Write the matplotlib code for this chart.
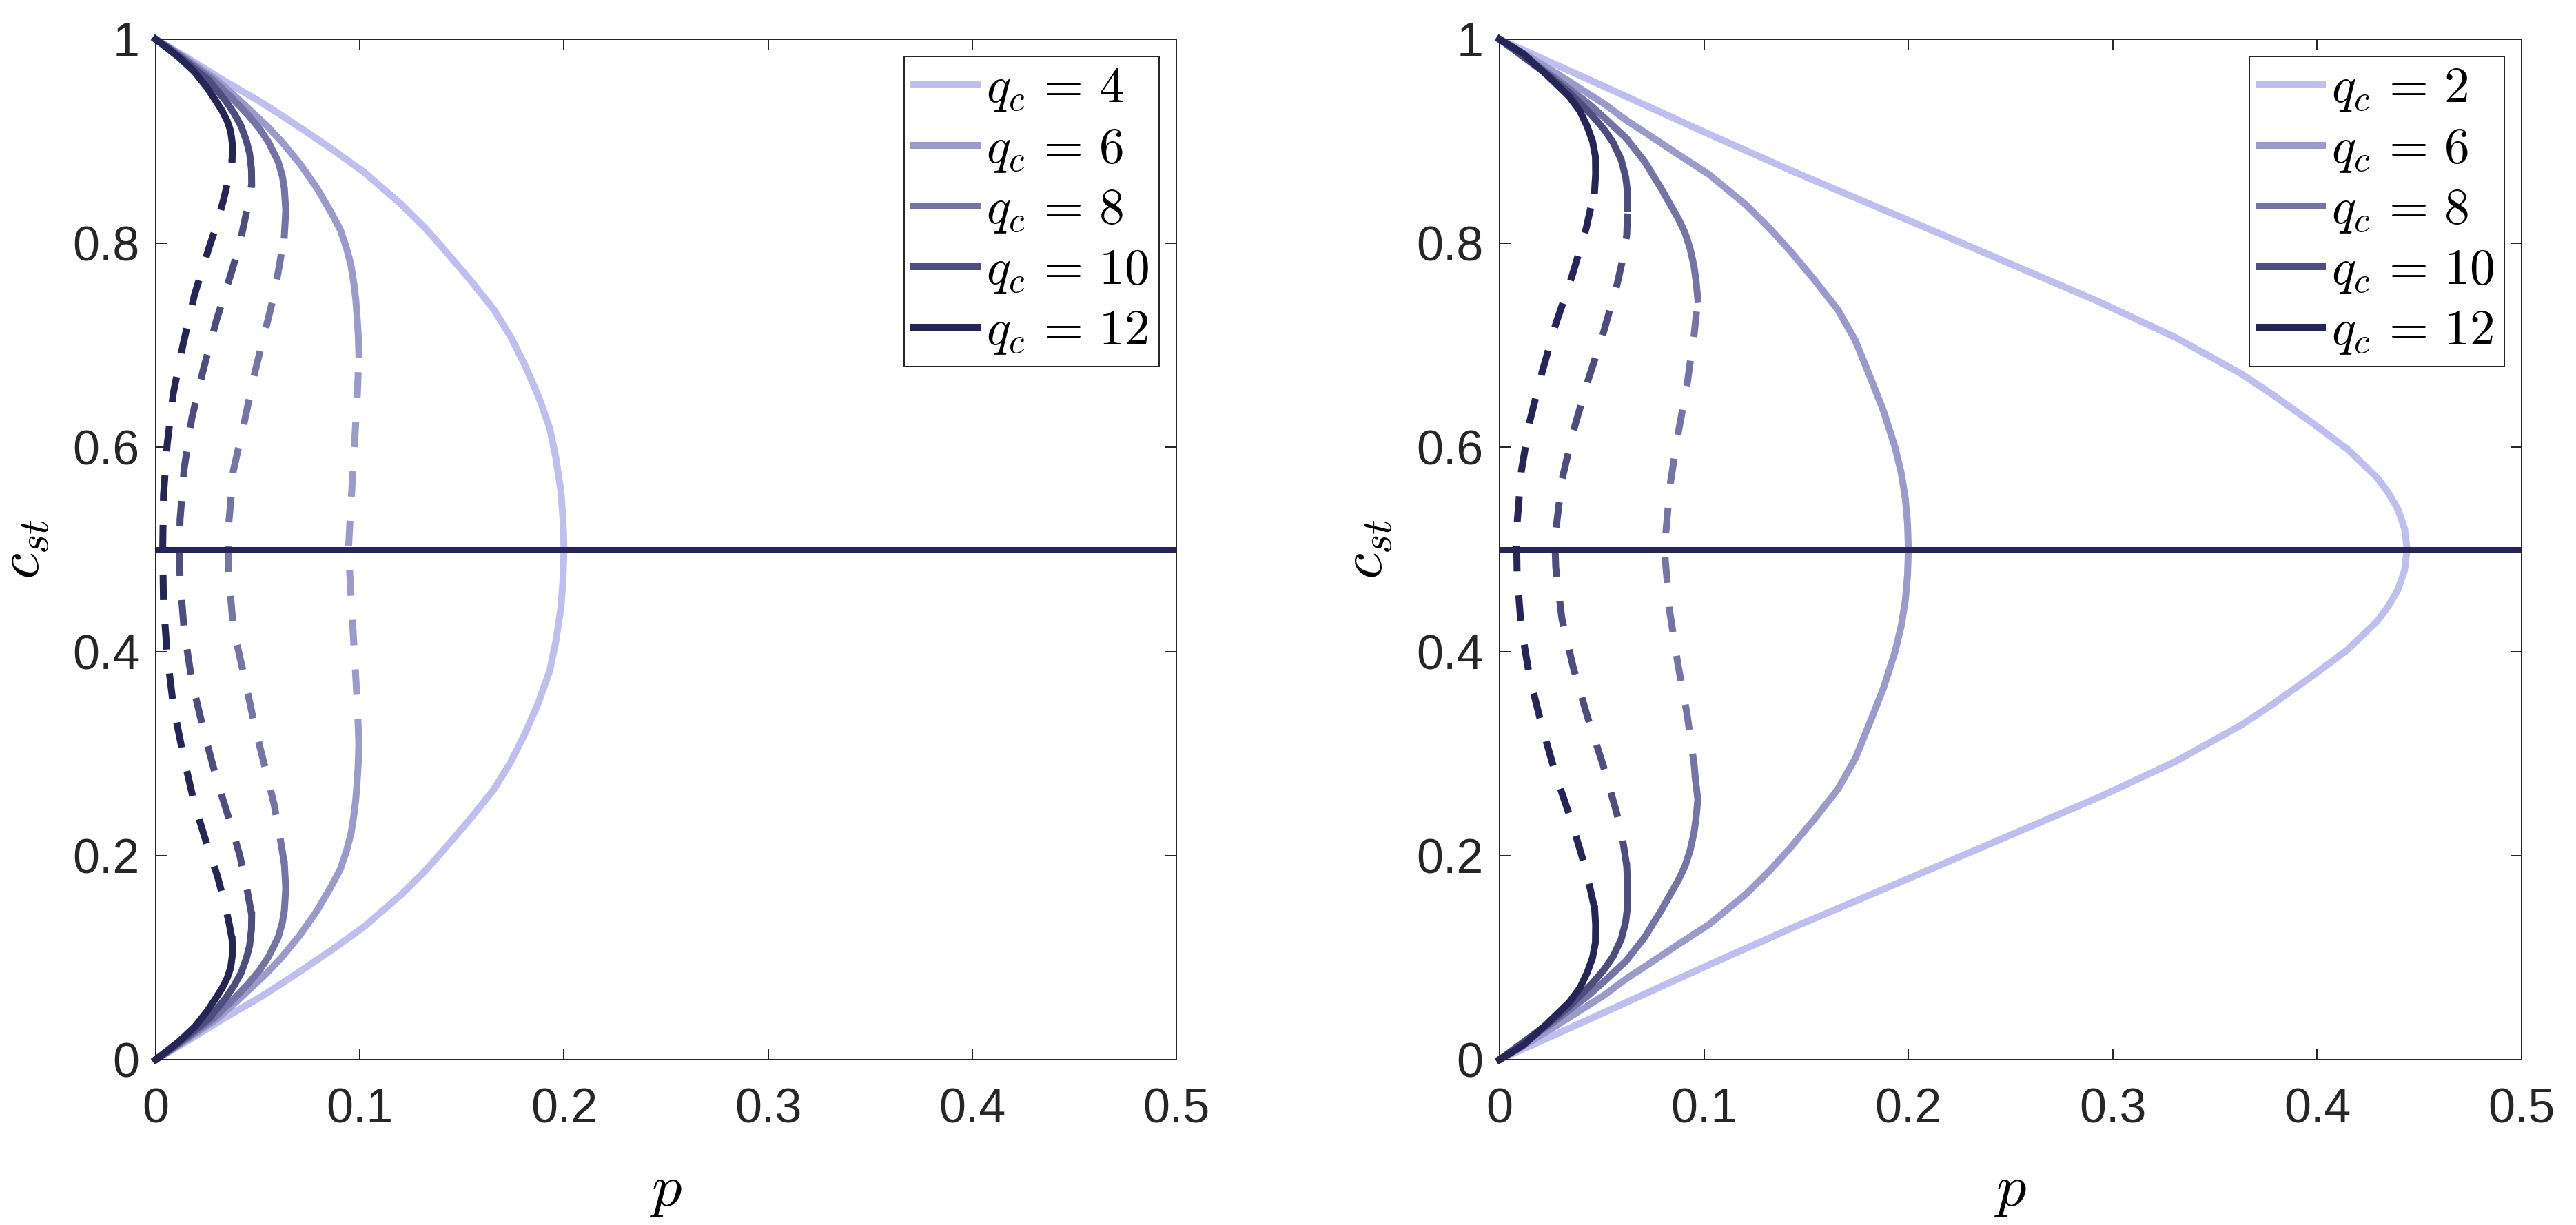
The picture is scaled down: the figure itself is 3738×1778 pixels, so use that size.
import matplotlib
matplotlib.use("Agg")
import matplotlib.pyplot as plt

plt.rcParams['mathtext.fontset'] = 'cm'
plt.rcParams['font.family'] = ['Liberation Sans', 'DejaVu Sans']

# line colours, lightest (first legend entry) to darkest
shades = ['#bfbfef', '#9a9acb', '#7474a6', '#4d4d7f', '#252558']
left_q = [4, 6, 8, 10, 12]
right_q = [2, 6, 8, 10, 12]

x_ticks = [0, 0.1, 0.2, 0.3, 0.4, 0.5]
x_tick_labels = ['0', '0.1', '0.2', '0.3', '0.4', '0.5']
y_ticks = [0, 0.2, 0.4, 0.6, 0.8, 1.0]
y_tick_labels = ['0', '0.2', '0.4', '0.6', '0.8', '1']

# ---- left panel: c_st values and the matching p values
# *_unstable = c range drawn dashed
L4_c = [0, 0.01, 0.02, 0.04, 0.061, 0.075, 0.09, 0.11, 0.131, 0.162, 0.185, 0.21, 0.237, 0.265, 0.292, 0.32,
        0.35, 0.381, 0.41, 0.443, 0.47, 0.5, 0.53, 0.557, 0.59, 0.619, 0.65, 0.68, 0.708, 0.735, 0.763, 0.79,
        0.815, 0.838, 0.869, 0.89, 0.91, 0.925, 0.939, 0.96, 0.98, 0.99, 1]
L4_p = [0, 0.0085, 0.017, 0.033, 0.051, 0.062, 0.0733, 0.088, 0.1025, 0.1204, 0.132, 0.143, 0.1545, 0.1657, 0.174, 0.181,
        0.1875, 0.193, 0.196, 0.1985, 0.1995, 0.2, 0.1995, 0.1985, 0.196, 0.193, 0.1875, 0.181, 0.174, 0.1657, 0.1545, 0.143,
        0.132, 0.1204, 0.1025, 0.088, 0.0733, 0.062, 0.051, 0.033, 0.017, 0.0085, 0]
L4_unstable = None

L6_c = [0, 0.01, 0.02, 0.04, 0.055, 0.071, 0.085, 0.101, 0.123, 0.146, 0.17, 0.187, 0.205, 0.222, 0.24, 0.255,
        0.271, 0.29, 0.309, 0.347, 0.409, 0.46, 0.5, 0.54, 0.591, 0.653, 0.691, 0.71, 0.729, 0.745, 0.76, 0.778,
        0.795, 0.813, 0.83, 0.854, 0.877, 0.899, 0.915, 0.929, 0.945, 0.96, 0.98, 0.99, 1]
L6_p = [0, 0.008, 0.0155, 0.03, 0.0385, 0.047, 0.0545, 0.062, 0.071, 0.079, 0.086, 0.0905, 0.0935, 0.0957, 0.0971, 0.098,
        0.0986, 0.0992, 0.0995, 0.0988, 0.097, 0.0955, 0.0944, 0.0955, 0.097, 0.0988, 0.0995, 0.0992, 0.0986, 0.098, 0.0971, 0.0957,
        0.0935, 0.0905, 0.086, 0.079, 0.071, 0.062, 0.0545, 0.047, 0.0385, 0.03, 0.0155, 0.008, 0]
L6_unstable = (0.309, 0.691)

L8_c = [0, 0.01, 0.02, 0.04, 0.057, 0.074, 0.088, 0.101, 0.12, 0.134, 0.146, 0.168, 0.192, 0.22, 0.25, 0.277,
        0.326, 0.375, 0.423, 0.474, 0.5, 0.526, 0.577, 0.625, 0.674, 0.723, 0.75, 0.78, 0.808, 0.832, 0.854,
        0.866, 0.88, 0.899, 0.912, 0.926, 0.943, 0.96, 0.98, 0.99, 1]
L8_p = [0, 0.0075, 0.0145, 0.028, 0.037, 0.0452, 0.051, 0.0553, 0.06, 0.062, 0.063, 0.0637, 0.063, 0.0607, 0.058, 0.0547,
        0.0486, 0.0434, 0.038, 0.0358, 0.0355, 0.0358, 0.038, 0.0434, 0.0486, 0.0547, 0.058, 0.0607, 0.063, 0.0637, 0.063,
        0.062, 0.06, 0.0553, 0.051, 0.0452, 0.037, 0.028, 0.0145, 0.0075, 0]
L8_unstable = (0.192, 0.808)

L10_c = [0, 0.01, 0.02, 0.04, 0.061, 0.073, 0.085, 0.1, 0.112, 0.128, 0.142, 0.168, 0.2, 0.227, 0.275, 0.323,
         0.371, 0.421, 0.471, 0.5, 0.529, 0.579, 0.629, 0.677, 0.725, 0.773, 0.8, 0.832, 0.858, 0.872, 0.888,
         0.9, 0.915, 0.927, 0.939, 0.96, 0.98, 0.99, 1]
L10_p = [0, 0.007, 0.0135, 0.026, 0.0345, 0.0385, 0.0418, 0.0445, 0.046, 0.0469, 0.047, 0.0446, 0.0412, 0.0373, 0.0298, 0.0234,
         0.0177, 0.0139, 0.0119, 0.0116, 0.0119, 0.0139, 0.0177, 0.0234, 0.0298, 0.0373, 0.0412, 0.0446, 0.047, 0.0469, 0.046,
         0.0445, 0.0418, 0.0385, 0.0345, 0.026, 0.0135, 0.007, 0]
L10_unstable = (0.142, 0.858)

L12_c = [0, 0.009, 0.018, 0.032, 0.047, 0.059, 0.07, 0.08, 0.09, 0.105, 0.118, 0.135, 0.155, 0.18, 0.203, 0.251,
         0.299, 0.347, 0.397, 0.447, 0.5, 0.553, 0.603, 0.653, 0.701, 0.749, 0.797, 0.82, 0.845, 0.865, 0.882,
         0.895, 0.91, 0.92, 0.93, 0.941, 0.953, 0.968, 0.982, 0.991, 1]
L12_p = [0, 0.0058, 0.0115, 0.019, 0.025, 0.029, 0.0325, 0.035, 0.0367, 0.0377, 0.0374, 0.0358, 0.0335, 0.0302, 0.0263, 0.0189,
         0.0134, 0.0086, 0.0056, 0.0038, 0.0034, 0.0038, 0.0056, 0.0086, 0.0134, 0.0189, 0.0263, 0.0302, 0.0335, 0.0358, 0.0374,
         0.0377, 0.0367, 0.035, 0.0325, 0.029, 0.025, 0.019, 0.0115, 0.0058, 0]
L12_unstable = (0.118, 0.882)

# ---- right panel
R2_c = [0, 0.047, 0.093, 0.129, 0.191, 0.257, 0.292, 0.328, 0.348, 0.378, 0.402, 0.43, 0.445, 0.461, 0.48, 0.5,
        0.52, 0.539, 0.555, 0.57, 0.598, 0.622, 0.652, 0.672, 0.708, 0.743, 0.809, 0.871, 0.907, 0.953, 1]
R2_p = [0, 0.052, 0.1025, 0.143, 0.216, 0.293, 0.3305, 0.363, 0.378, 0.399, 0.415, 0.4295, 0.435, 0.4396, 0.4428, 0.444,
        0.4428, 0.4396, 0.435, 0.4295, 0.415, 0.399, 0.378, 0.363, 0.3305, 0.293, 0.216, 0.143, 0.1025, 0.052, 0]
R2_unstable = None

R6_c = [0, 0.01, 0.02, 0.04, 0.063, 0.08, 0.094, 0.113, 0.1325, 0.162, 0.185, 0.207, 0.235, 0.265, 0.295, 0.328,
        0.364, 0.4, 0.425, 0.45, 0.475, 0.5, 0.525, 0.55, 0.575, 0.6, 0.636, 0.672, 0.705, 0.735, 0.765, 0.793,
        0.815, 0.838, 0.8675, 0.887, 0.906, 0.92, 0.937, 0.96, 0.98, 0.99, 1]
R6_p = [0, 0.0085, 0.017, 0.033, 0.051, 0.0625, 0.0732, 0.0875, 0.1025, 0.1204, 0.132, 0.142, 0.1537, 0.1655, 0.174, 0.1807,
        0.1878, 0.1935, 0.1965, 0.1985, 0.1996, 0.2, 0.1996, 0.1985, 0.1965, 0.1935, 0.1878, 0.1807, 0.174, 0.1655, 0.1537, 0.142,
        0.132, 0.1204, 0.1025, 0.0875, 0.0732, 0.0625, 0.051, 0.033, 0.017, 0.0085, 0]
R6_unstable = None

R8_c = [0, 0.01, 0.02, 0.04, 0.063, 0.08, 0.097, 0.12, 0.146, 0.176, 0.19, 0.205, 0.222, 0.238, 0.255, 0.275,
        0.289, 0.339, 0.387, 0.437, 0.489, 0.5, 0.511, 0.563, 0.613, 0.661, 0.711, 0.745, 0.762, 0.778, 0.795,
        0.81, 0.824, 0.854, 0.88, 0.903, 0.92, 0.937, 0.96, 0.98, 0.99, 1]
R8_p = [0, 0.0075, 0.0145, 0.0285, 0.0435, 0.053, 0.062, 0.071, 0.079, 0.0875, 0.0908, 0.0932, 0.0951, 0.0962, 0.097, 0.0958,
        0.0952, 0.0917, 0.0873, 0.0834, 0.0811, 0.081, 0.0811, 0.0834, 0.0873, 0.0917, 0.0952, 0.097, 0.0962, 0.0951, 0.0932,
        0.0908, 0.0875, 0.079, 0.071, 0.062, 0.053, 0.0435, 0.0285, 0.0145, 0.0075, 0]
R8_unstable = (0.275, 0.745)

R10_c = [0, 0.01, 0.02, 0.035, 0.051, 0.063, 0.074, 0.088, 0.101, 0.118, 0.135, 0.15, 0.166, 0.19, 0.216, 0.241,
         0.289, 0.336, 0.384, 0.432, 0.482, 0.5, 0.518, 0.568, 0.616, 0.664, 0.711, 0.759, 0.784, 0.808, 0.834,
         0.85, 0.865, 0.882, 0.899, 0.912, 0.926, 0.937, 0.949, 0.965, 0.98, 0.99, 1]
R10_p = [0, 0.0068, 0.0135, 0.0237, 0.0335, 0.0395, 0.045, 0.051, 0.0555, 0.0595, 0.0617, 0.0626, 0.0627, 0.0622, 0.0602, 0.0574,
         0.0506, 0.043, 0.0361, 0.0305, 0.0275, 0.0272, 0.0275, 0.0305, 0.0361, 0.043, 0.0506, 0.0574, 0.0602, 0.0622, 0.0627,
         0.0626, 0.0617, 0.0595, 0.0555, 0.051, 0.045, 0.0395, 0.0335, 0.0237, 0.0135, 0.0068, 0]
R10_unstable = (0.19, 0.834)

R12_c = [0, 0.007, 0.014, 0.034, 0.056, 0.07, 0.085, 0.1, 0.115, 0.132, 0.148, 0.185, 0.233, 0.279, 0.327, 0.375,
         0.424, 0.474, 0.5, 0.526, 0.576, 0.625, 0.673, 0.721, 0.767, 0.815, 0.852, 0.868, 0.885, 0.9, 0.915,
         0.93, 0.944, 0.966, 0.986, 0.993, 1]
R12_p = [0, 0.0058, 0.0115, 0.0226, 0.034, 0.0392, 0.0428, 0.0455, 0.0469, 0.047, 0.0465, 0.0424, 0.0353, 0.0275, 0.0207, 0.0147,
         0.0106, 0.0086, 0.0084, 0.0086, 0.0106, 0.0147, 0.0207, 0.0275, 0.0353, 0.0424, 0.0465, 0.047, 0.0469, 0.0455, 0.0428,
         0.0392, 0.034, 0.0226, 0.0115, 0.0058, 0]
R12_unstable = (0.148, 0.852)

# disordered state c_st = 1/2 over the whole p range
mid_p = [0, 0.5]
mid_c = [0.5, 0.5]

left_curves = [(L4_c, L4_p, L4_unstable), (L6_c, L6_p, L6_unstable), (L8_c, L8_p, L8_unstable),
               (L10_c, L10_p, L10_unstable), (L12_c, L12_p, L12_unstable)]
right_curves = [(R2_c, R2_p, R2_unstable), (R6_c, R6_p, R6_unstable), (R8_c, R8_p, R8_unstable),
                (R10_c, R10_p, R10_unstable), (R12_c, R12_p, R12_unstable)]

LW = 3.0
DASH = (0, (3.7, 3.5))
AXCOL = '#262626'


def draw_curve(ax, c, p, unstable, color, label):
    if unstable is None:
        ax.plot(p, c, color=color, lw=LW, label=label, clip_on=False)
        return
    lo, hi = unstable
    up_p = [pp for cc, pp in zip(c, p) if cc >= hi]
    up_c = [cc for cc in c if cc >= hi]
    mid_pp = [pp for cc, pp in zip(c, p) if lo <= cc <= hi]
    mid_cc = [cc for cc in c if lo <= cc <= hi]
    low_p = [pp for cc, pp in zip(c, p) if cc <= lo]
    low_c = [cc for cc in c if cc <= lo]
    ax.plot(up_p, up_c, color=color, lw=LW, label=label, clip_on=False)
    ax.plot(low_p, low_c, color=color, lw=LW, clip_on=False)
    ax.plot(mid_pp, mid_cc, color=color, lw=LW, linestyle=DASH)


def setup(ax, curves, qs):
    for (c, p, unst), col, q in zip(curves, shades, qs):
        draw_curve(ax, c, p, unst, col, r'$q_c\,=\,%d$' % q)
    ax.plot(mid_p, mid_c, color=shades[-1], lw=2.7)

    ax.set_xlim(0, 0.5)
    ax.set_ylim(0, 1)
    ax.set_xticks(x_ticks)
    ax.set_xticklabels(x_tick_labels)
    ax.set_yticks(y_ticks)
    ax.set_yticklabels(y_tick_labels)
    ax.tick_params(direction='in', length=4.8, width=0.6, top=True, right=True,
                   labelsize=21, color=AXCOL, labelcolor=AXCOL)
    ax.tick_params(axis='x', pad=12)
    ax.tick_params(axis='y', pad=7)
    for s in ax.spines.values():
        s.set_linewidth(0.6)
        s.set_color(AXCOL)

    ax.set_xlabel(r'$p$', fontsize=26)
    ax.set_ylabel(r'$c_{st}$', fontsize=26)
    ax.xaxis.set_label_coords(0.5, -0.101)
    ax.yaxis.set_label_coords(-0.102, 0.5)

    leg = ax.legend(loc='upper right', fontsize=22, fancybox=False, framealpha=1,
                    edgecolor=AXCOL, borderaxespad=0.34, borderpad=0.2,
                    handlelength=1.25, handletextpad=0.18, labelspacing=0.26)
    leg.get_frame().set_linewidth(0.6)


fig = plt.figure(figsize=(3738 / 240, 1778 / 240), dpi=240)
ax1 = fig.add_axes([226 / 3738, 1 - 1538 / 1778, 1481 / 3738, 1481 / 1778])
ax2 = fig.add_axes([2176 / 3738, 1 - 1538 / 1778, 1483 / 3738, 1481 / 1778])

setup(ax1, left_curves, left_q)
setup(ax2, right_curves, right_q)

fig.savefig('out.png', dpi=240)
